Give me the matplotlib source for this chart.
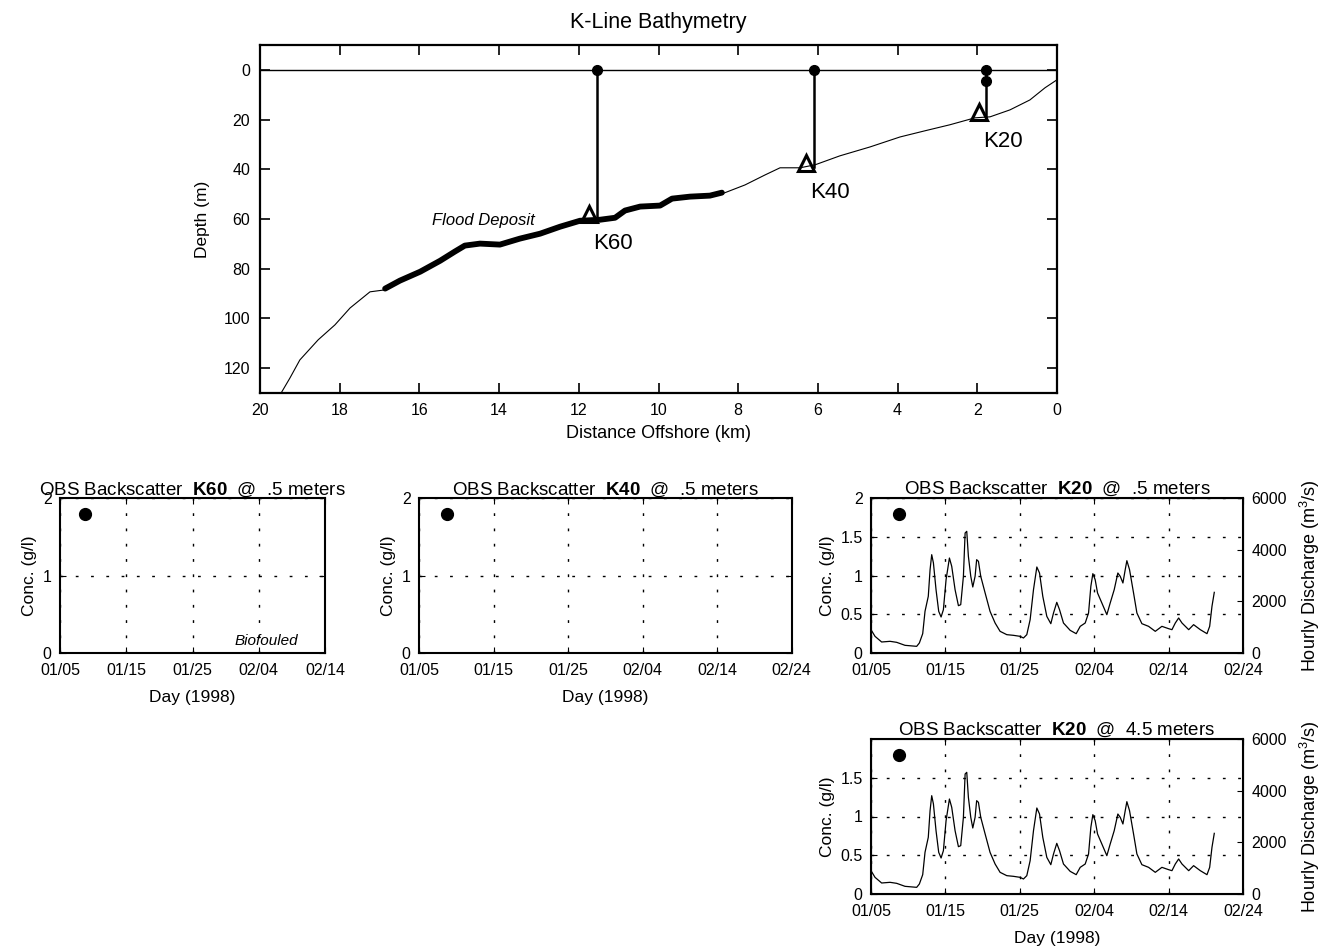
import matplotlib.pyplot as plt
import numpy as np

plt.rcParams['font.family'] = ['Liberation Sans', 'DejaVu Sans']
plt.rcParams['mathtext.fontset'] = 'custom'
plt.rcParams['mathtext.rm'] = 'Liberation Sans'
plt.rcParams['mathtext.bf'] = 'Liberation Sans:bold'
plt.rcParams['mathtext.it'] = 'Liberation Sans:italic'

# ---- bathymetry along the K line ----
bathy_km = [19.47, 19.25, 19.0, 18.54, 18.12, 17.74, 17.24, 16.86, 16.49, 15.98,
            15.48, 15.11, 14.86, 14.48, 13.98, 13.48, 12.97, 12.47, 11.97, 11.47,
            11.09, 10.84, 10.46, 9.96, 9.66, 9.21, 8.71, 8.41, 7.83, 7.33,
            6.95, 6.45, 6.07, 5.45, 4.69, 3.94, 3.31, 2.69, 2.06, 1.68,
            1.18, 0.68, 0.30, 0.0]
bathy_depth = [130, 124, 116.7, 108.6, 102.6, 95.8, 89.3, 88.5, 85.3, 81.7,
               77.3, 73.6, 71.2, 70.4, 70.8, 68.4, 66.4, 63.6, 61.2, 60.8,
               60.0, 57.1, 55.5, 55.1, 52.3, 51.5, 51.1, 49.9, 46.3, 42.3,
               39.4, 39.4, 38.2, 34.6, 31.0, 27.0, 24.5, 22.1, 19.3, 18.9,
               16.1, 12.1, 7.2, 4.0]

# flood deposit extent (km) and thin upper edge near K60
deposit_range = (8.4, 17.0)
deposit_top_km = [13.3, 12.8, 12.3, 11.9]
deposit_top_depth = [67.0, 64.6, 62.2, 60.5]

# moorings
station_names = ['K60', 'K40', 'K20']
station_km = [11.55, 6.1, 1.78]
station_bottom = [61.0, 39.0, 19.5]
buoy_km = [11.55, 6.1, 1.78, 1.78]
buoy_depth = [0.0, 0.0, 0.0, 4.5]
tripod_km = [11.75, 6.3, 1.95]
tripod_depth = [58.0, 37.5, 17.0]

# ---- OBS / discharge time series (days since 01/05/1998) ----
day = [0.0, 0.54, 1.43, 2.56, 3.45, 4.57, 6.14, 6.5, 6.95, 7.26,
       7.7, 7.94, 8.16, 8.39, 8.74, 9.1, 9.42, 9.73, 10.09, 10.54,
       10.85, 11.3, 11.75, 12.06, 12.42, 12.65, 12.87, 13.09, 13.41, 13.68,
       13.99, 14.2, 14.44, 14.75, 15.34, 16.0, 16.68, 17.35, 18.25, 19.15,
       20.04, 20.49, 20.94, 21.39, 21.84, 22.29, 22.65, 23.09, 23.63, 24.17,
       24.53, 24.97, 25.34, 25.87, 26.77, 27.58, 28.12, 28.79, 29.24, 29.55,
       29.82, 30.13, 30.45, 31.03, 31.7, 32.15, 32.69, 33.18, 33.5, 33.86,
       34.17, 34.39, 34.75, 35.29, 35.74, 36.41, 37.31, 38.21, 39.1, 40.0,
       40.45, 40.9, 41.35, 41.8, 42.7, 43.36, 44.26, 45.16, 45.52, 45.83,
       46.14]
discharge = [903, 645, 426, 452, 413, 297, 258, 387, 748, 1613,
             2194, 3226, 3806, 3484, 2452, 1613, 1394, 1677, 2839, 3677,
             3355, 2452, 1832, 1871, 2968, 4645, 4710, 3742, 2968, 2555,
             2968, 3613, 3548, 2968, 2323, 1613, 1161, 839, 710, 684,
             645, 581, 710, 1290, 2452, 3329, 3097, 2194, 1419, 1135,
             1548, 1961, 1677, 1161, 877, 748, 1032, 1161, 1548, 2581,
             3071, 2839, 2323, 1935, 1484, 1935, 2452, 3097, 2968, 2710,
             3226, 3574, 3226, 2323, 1548, 1135, 1032, 839, 1032, 942,
             903, 1161, 1355, 1161, 903, 1097, 903, 748, 1032, 1806,
             2348]

date_ticks = [0, 10, 20, 30, 40, 50]
date_labels = ['01/05', '01/15', '01/25', '02/04', '02/14', '02/24']
marker_day = 3.8
marker_conc = 1.79

W, H = 1332, 951
fig = plt.figure(figsize=(W / 100, H / 100), dpi=100)


def box(l, r, t, b):
    return [l / W, 1 - b / H, (r - l) / W, (b - t) / H]


# ---------------- top: bathymetry ----------------
ax = fig.add_axes(box(260, 1057, 45, 393))
km = np.array(bathy_km)
dep = np.array(bathy_depth)
ax.plot(km, dep, color='k', lw=0.8)
m = (km >= deposit_range[0]) & (km <= deposit_range[1])
ax.plot(km[m], dep[m] - 0.5, color='k', lw=4.2, solid_capstyle='round')
ax.plot(deposit_top_km, deposit_top_depth, color='k', lw=0.8)
ax.axhline(0, color='k', lw=1.0)
for k, bot in zip(station_km, station_bottom):
    ax.plot([k, k], [0, bot], color='k', lw=1.8)
ax.plot(buoy_km, buoy_depth, 'o', color='k', ms=7, ls='none')
ax.plot(tripod_km, tripod_depth, '^', mfc='none', mec='k', mew=2.2, ms=12, ls='none')
for name, k, d in zip(station_names, tripod_km, tripod_depth):
    ax.text(k - 0.1, d + 11.8, name, fontsize=16, ha='left', va='center')
ax.text(14.4, 60.5, 'Flood Deposit', fontsize=12, style='italic', ha='center', va='center')
ax.set_xlim(20, 0)
ax.set_ylim(130, -10)
ax.set_xticks(np.arange(0, 21, 2))
ax.set_yticks(np.arange(0, 121, 20))
ax.tick_params(direction='in', top=True, right=True, length=7, width=1.2, labelsize=11.5, pad=7)
for s in ax.spines.values():
    s.set_linewidth(1.6)
ax.set_xlabel('Distance Offshore (km)', fontsize=13, labelpad=5)
ax.set_ylabel('Depth (m)', fontsize=12.5, labelpad=10)
ax.set_title('K-Line Bathymetry', fontsize=15.5, pad=12)


# ---------------- bottom: OBS panels ----------------
def obs_panel(rect, title, ndays, yticks, ylabels, with_q, xlabel):
    a = fig.add_axes(rect)
    a.set_xlim(0, ndays)
    a.set_ylim(0, 2)
    nt = ndays // 10 + 1
    a.set_xticks(date_ticks[:nt])
    a.set_xticklabels(date_labels[:nt])
    a.set_yticks(yticks)
    a.set_yticklabels(ylabels)
    a.grid(True, color='k', lw=1.0, ls=(0, (2, 9)))
    a.plot([marker_day], [marker_conc], 'o', color='k', ms=8.5)
    a.tick_params(direction='in', top=True, right=True, length=4, labelsize=11.5)
    a.tick_params(axis='x', pad=7)
    a.tick_params(axis='y', pad=6)
    for s in a.spines.values():
        s.set_linewidth(1.5)
    a.set_ylabel('Conc. (g/l)', fontsize=12.5, labelpad=4)
    if xlabel:
        a.set_xlabel('Day (1998)', fontsize=12.5, labelpad=9)
    a.set_title(title, fontsize=13.5, pad=2)
    if with_q:
        q = a.twinx()
        q.plot(day, discharge, color='k', lw=0.9)
        q.set_ylim(0, 6000)
        q.set_yticks([0, 2000, 4000, 6000])
        q.tick_params(direction='in', length=4, labelsize=11.5, pad=6)
        q.set_ylabel('Hourly Discharge (m$^3$/s)', fontsize=13, labelpad=8)
    return a


a1 = obs_panel(box(60, 325, 498, 653), r'OBS Backscatter  $\bf{K60}$  @  .5 meters', 40,
               [0, 1, 2], ['0', '1', '2'], False, True)
a1.text(0.90, 0.08, 'Biofouled', transform=a1.transAxes, fontsize=11, style='italic',
        ha='right', va='center')
obs_panel(box(419, 791.5, 498, 653), r'OBS Backscatter  $\bf{K40}$  @  .5 meters', 50,
          [0, 1, 2], ['0', '1', '2'], False, True)
obs_panel(box(871, 1243, 498, 653), r'OBS Backscatter  $\bf{K20}$  @  .5 meters', 50,
          [0, 0.5, 1, 1.5, 2], ['0', '0.5', '1', '1.5', '2'], True, False)
obs_panel(box(871, 1243, 739, 894), r'OBS Backscatter  $\bf{K20}$  @  4.5 meters', 50,
          [0, 0.5, 1, 1.5], ['0', '0.5', '1', '1.5'], True, True)

fig.savefig('out.png', dpi=100)
